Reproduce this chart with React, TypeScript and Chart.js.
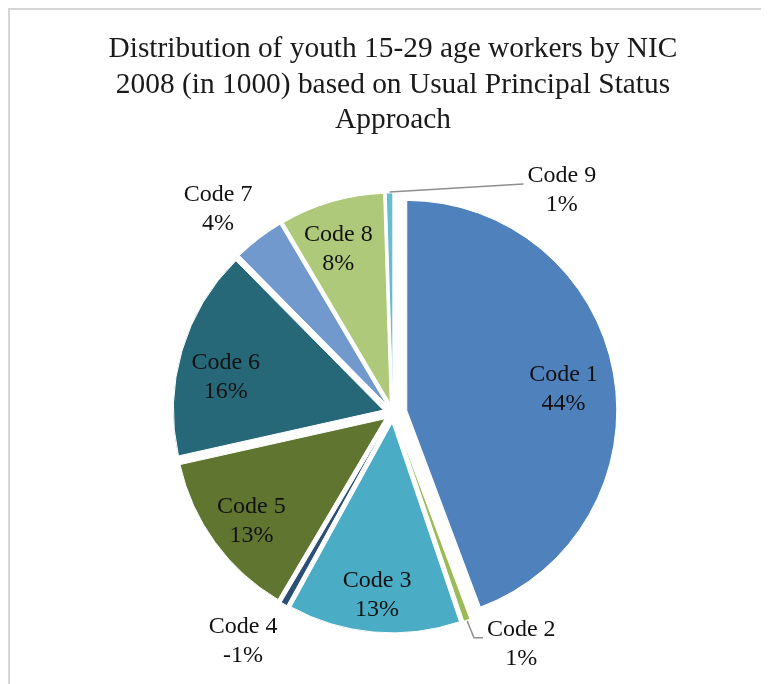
import React, { useEffect, useRef } from "react";
import { Chart, registerables } from "chart.js";

Chart.register(...registerables);

const categories = ["Code 1", "Code 2", "Code 3", "Code 4", "Code 5", "Code 6", "Code 7", "Code 8", "Code 9"];
const shares = [44.3, 0.5, 13.2, 0.5, 13.0, 16.1, 3.9, 8.0, 0.5];
const percentLabels = ["44%", "1%", "13%", "-1%", "13%", "16%", "4%", "8%", "1%"];
const titleLines = [
  "Distribution of youth 15-29 age workers by NIC",
  "2008 (in 1000) based on Usual Principal Status",
  "Approach",
];

const sliceColors = ["#4F81BD", "#9BBB59", "#4BACC6", "#2C4D75", "#5F7530", "#266878", "#7199CD", "#AFC97A", "#67BCD2"];
// explosion distance of each slice (px), applied along the slice's mid angle
const sliceExplode = [14, 10, 10, 10, 10, 10, 10, 10, 10];

// label placement in polar form relative to the pie centre:
// angle in degrees clockwise from 12 o'clock, distance as a fraction of the radius
const labelPlacement = [
  { angle: 82, dist: 0.82 },
  { angle: 151, dist: 1.26, leader: true, elbow: 9 },
  { angle: 185, dist: 0.87 },
  { angle: 213.3, dist: 1.3 },
  { angle: 232.5, dist: 0.85 },
  { angle: 282.2, dist: 0.815 },
  { angle: 319.4, dist: 1.28 },
  { angle: 341.5, dist: 0.82 },
  { angle: 37.2, dist: 1.33, leader: true, elbow: 0 },
];

const FONT = "'Liberation Serif', 'Times New Roman', serif";

const explodePlugin = {
  id: "explodeSlices",
  beforeDatasetDraw(chart: any, args: any) {
    const ctx = chart.ctx;
    args.meta.data.forEach((arc: any, i: number) => {
      const mid = (arc.startAngle + arc.endAngle) / 2;
      const d = sliceExplode[i] || 0;
      ctx.save();
      ctx.translate(Math.cos(mid) * d, Math.sin(mid) * d);
      arc.draw(ctx, chart.chartArea);
      ctx.restore();
    });
    return false;
  },
};

const labelPlugin = {
  id: "sliceLabels",
  afterDatasetsDraw(chart: any) {
    const ctx = chart.ctx;
    const meta = chart.getDatasetMeta(0);
    ctx.save();
    ctx.font = `24px ${FONT}`;
    ctx.textAlign = "center";
    ctx.textBaseline = "middle";
    const gap = 29;
    meta.data.forEach((arc: any, i: number) => {
      const p = arc.getProps(["x", "y", "startAngle", "endAngle", "outerRadius"], true);
      const place = labelPlacement[i];
      const a = (place.angle * Math.PI) / 180;
      const R = p.outerRadius;
      const lx = p.x + Math.sin(a) * R * place.dist;
      const ly = p.y - Math.cos(a) * R * place.dist;
      const l1 = categories[i];
      const l2 = percentLabels[i];
      if (place.leader) {
        const mid = (p.startAngle + p.endAngle) / 2;
        const off = sliceExplode[i];
        const sx = p.x + Math.cos(mid) * (R + off + 1);
        const sy = p.y + Math.sin(mid) * (R + off + 1);
        const w = ctx.measureText(l1).width;
        const ex = lx - w / 2 - 4;
        const ey = ly - gap / 2 + 8;
        ctx.strokeStyle = "#8f8f8f";
        ctx.lineWidth = 1.5;
        ctx.beginPath();
        ctx.moveTo(sx, sy);
        ctx.lineTo(ex - place.elbow, ey);
        ctx.lineTo(ex, ey);
        ctx.stroke();
      }
      ctx.fillStyle = "#111";
      ctx.fillText(l1, lx, ly - gap / 2);
      ctx.fillText(l2, lx, ly + gap / 2);
    });
    ctx.restore();
  },
};

export default function App() {
  const ref = useRef<HTMLCanvasElement | null>(null);
  useEffect(() => {
    if (!ref.current) return;
    const chart = new Chart(ref.current, {
      type: "pie",
      data: {
        labels: categories,
        datasets: [
          {
            data: shares,
            backgroundColor: sliceColors,
            borderColor: "#ffffff",
            borderWidth: 1,
            hoverOffset: 0,
          },
        ],
      },
      options: {
        responsive: false,
        animation: false,
        radius: 210,
        layout: { padding: { left: 7, right: 0, top: 0, bottom: 0 } },
        plugins: {
          legend: { display: false },
          tooltip: { enabled: false },
          title: {
            display: true,
            text: titleLines,
            color: "#1a1a1a",
            font: { family: FONT, size: 29.4, weight: "normal", lineHeight: 1.2 },
            padding: { top: 22, bottom: 4 },
          },
        },
      } as any,
      plugins: [explodePlugin, labelPlugin],
    });
    return () => chart.destroy();
  }, []);
  return (
    <div
      style={{
        width: 759,
        height: 674,
        borderTop: "2px solid #d6d6d6",
        borderLeft: "2px solid #d6d6d6",
        background: "#fff",
      }}
    >
      <canvas ref={ref} width={759} height={674} style={{ display: "block" }} />
    </div>
  );
}
